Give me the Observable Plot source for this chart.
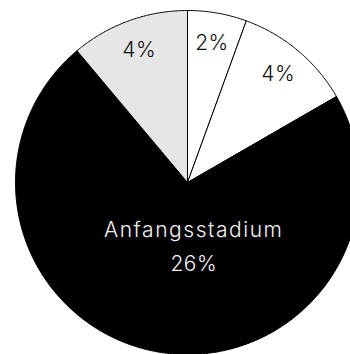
<!DOCTYPE html>
<html>
<head>
<meta charset="utf-8">
<script src="https://cdn.jsdelivr.net/npm/d3@7"></script>
<script src="https://cdn.jsdelivr.net/npm/@observablehq/plot@0.6"></script>
<style>
  html, body { margin: 0; padding: 0; background: #fff; overflow: hidden; }
  #chart svg text { letter-spacing: 0.5px; }
  #chart svg .stage-label tspan:first-child { letter-spacing: 1.55px; }
</style>
</head>
<body>
<div id="chart"></div>
<script>
// Slices, clockwise from 12 o'clock
const sliceIds = ["s1", "s2", "s3", "s4"];
const sliceNames = [null, null, "Anfangsstadium", null];
const shares = [2, 4, 26, 4];

// Pie geometry (unit circle, angles from the top, clockwise)
const arcs = d3.pie().sort(null).value(d => d)(shares)
  .map((a, i) => ({...a, id: sliceIds[i], name: sliceNames[i], share: shares[i]}));

const outline = [];
arcs.forEach(a => {
  const span = a.endAngle - a.startAngle;
  const n = Math.max(2, Math.ceil(span / (Math.PI / 360)));
  outline.push({id: a.id, x: 0, y: 0});
  for (let k = 0; k <= n; k++) {
    const t = a.startAngle + span * k / n;
    outline.push({id: a.id, x: Math.sin(t), y: Math.cos(t)});
  }
  outline.push({id: a.id, x: 0, y: 0});
});

const mid = a => (a.startAngle + a.endAngle) / 2;
const isBig = a => a.endAngle - a.startAngle > Math.PI;
const labelText = a => (a.name ? a.name + "\n" : "") + a.share + "%";

// Pie radius and centre in pixels
const R = 172, cx = 187, cy = 182, W = 350, H = 354;
const font = {fontFamily: "Inter", fontWeight: 300, fontSize: 21};

const chart = Plot.plot({
  width: W,
  height: H,
  margin: 0,
  x: {domain: [-cx / R, (W - cx) / R], range: [0, W], axis: null},
  y: {domain: [-(H - cy) / R, cy / R], range: [H, 0], axis: null},
  color: {type: "ordinal", domain: sliceIds, range: ["#ffffff", "#ffffff", "#000000", "#e6e6e6"]},
  style: {overflow: "hidden", background: "#fff", fontFamily: "Inter"},
  marks: [
    Plot.line(outline, {
      x: "x", y: "y", z: "id", fill: "id",
      stroke: "#000", strokeWidth: 1, strokeLinejoin: "round", curve: "linear"
    }),
    Plot.text(arcs.filter(a => !isBig(a)), {
      x: a => 0.82 * Math.sin(mid(a)),
      y: a => 0.82 * Math.cos(mid(a)),
      text: labelText,
      fill: "#111", ...font
    }),
    Plot.text(arcs.filter(isBig), {
      x: a => 0.36 * Math.sin(mid(a)),
      y: a => 0.36 * Math.cos(mid(a)),
      dx: 17,
      text: labelText,
      lineHeight: 1.6,
      className: "stage-label",
      fill: "#f4f4f4", ...font
    })
  ]
});

document.getElementById("chart").append(chart);
</script>
</body>
</html>
